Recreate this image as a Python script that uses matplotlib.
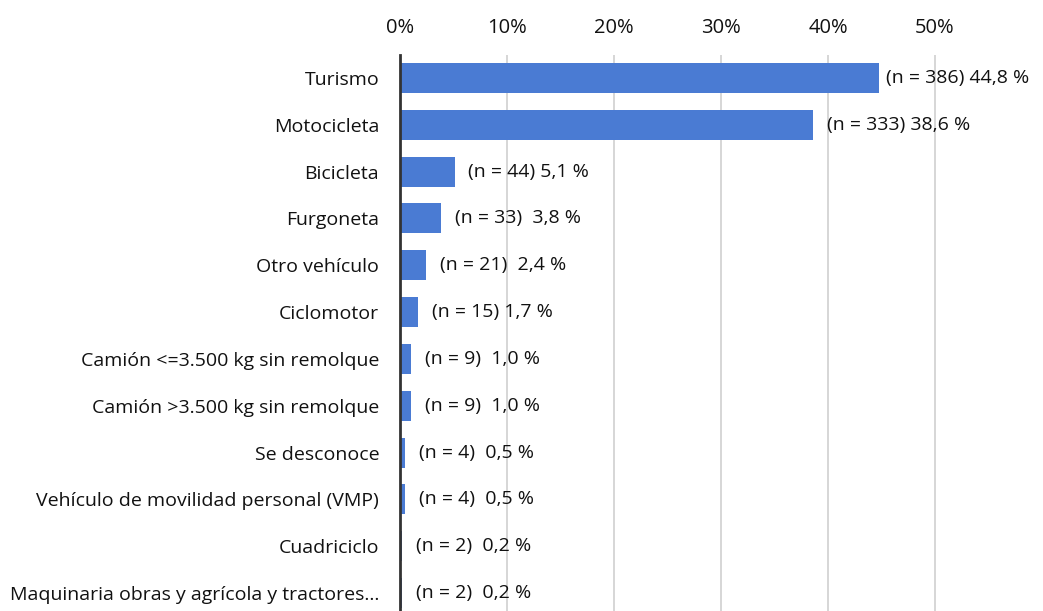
import matplotlib
matplotlib.use('Agg')
from matplotlib import pyplot as plt

categories = ['Turismo', 'Motocicleta', 'Bicicleta', 'Furgoneta', 'Otro vehículo', 'Ciclomotor',
              'Camión <=3.500 kg sin remolque', 'Camión >3.500 kg sin remolque', 'Se desconoce',
              'Vehículo de movilidad personal (VMP)', 'Cuadriciclo',
              'Maquinaria obras y agrícola y tractores...']
percent = [44.8, 38.6, 5.1, 3.8, 2.4, 1.7, 1.0, 1.0, 0.5, 0.5, 0.2, 0.2]
counts = [386, 333, 44, 33, 21, 15, 9, 9, 4, 4, 2, 2]
labels = ['(n = 386) 44,8 %', '(n = 333) 38,6 %', '(n = 44) 5,1 %', '(n = 33)  3,8 %',
          '(n = 21)  2,4 %', '(n = 15) 1,7 %', '(n = 9)  1,0 %', '(n = 9)  1,0 %',
          '(n = 4)  0,5 %', '(n = 4)  0,5 %', '(n = 2)  0,2 %', '(n = 2)  0,2 %']

plt.rcParams['font.family'] = ['Open Sans', 'DejaVu Sans']

fig = plt.figure(figsize=(10.43, 6.11), dpi=100)
ax = fig.add_axes([0.3835, -0.0088, 0.6155, 0.9194])

y = list(range(len(categories)))
ax.barh(y, percent, height=0.64, color='#4a7bd3', zorder=2)
ax.set_ylim(len(categories) - 0.5, -0.5)
ax.set_xlim(0, 60)
ax.set_xticks([0, 10, 20, 30, 40, 50])
ax.set_xticklabels(['0%', '10%', '20%', '30%', '40%', '50%'])
ax.xaxis.tick_top()
ax.tick_params(axis='x', length=0, pad=12, labelsize=14.5, colors='#111111')
ax.tick_params(axis='y', length=0, pad=15, labelsize=14, colors='#111111')
ax.set_yticks(y)
ax.set_yticklabels(categories)
ax.grid(axis='x', color='#d0d0d0', linewidth=1.2, zorder=0)

for s in ['top', 'right', 'bottom']:
    ax.spines[s].set_visible(False)
ax.spines['left'].set_color('#333333')
ax.spines['left'].set_linewidth(2)
ax.spines['left'].set_zorder(3)

for yi, p, lab in zip(y, percent, labels):
    ax.annotate(lab, (p, yi), xytext=(4.5 if p > 40 else 10, 0), textcoords='offset points',
                va='center', ha='left', fontsize=14, color='#111111', zorder=4)

fig.savefig('out.png', dpi=100)
